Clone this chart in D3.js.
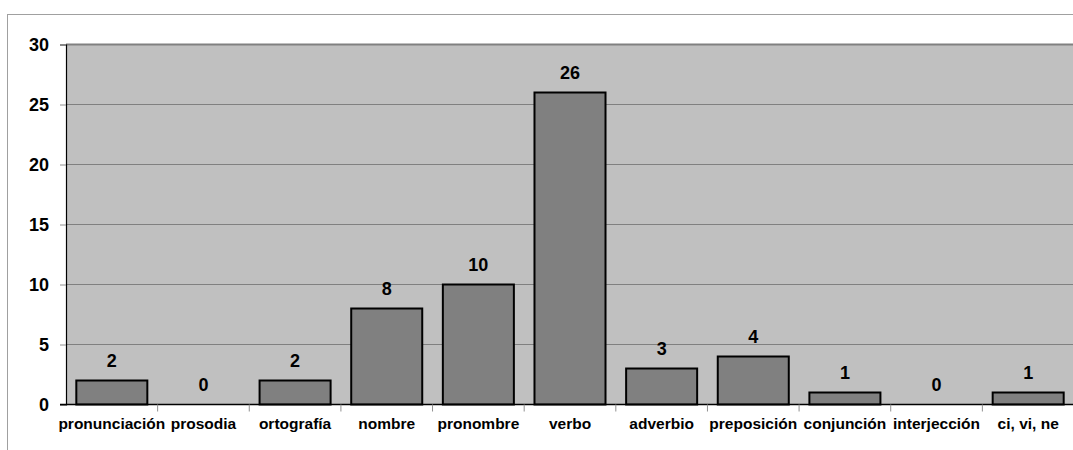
<!DOCTYPE html>
<html>
<head>
<meta charset="utf-8">
<script src="https://cdn.jsdelivr.net/npm/d3@7"></script>
<style>
  html, body { margin: 0; padding: 0; background: #ffffff; }
  svg { display: block; font-family: "Liberation Sans", Arial, sans-serif; }
</style>
</head>
<body>
<svg id="chart" width="1073" height="450"></svg>
<script>
const categories = ["pronunciación", "prosodia", "ortografía", "nombre", "pronombre", "verbo", "adverbio", "preposición", "conjunción", "interjección", "ci, vi, ne"];
const values = [2, 0, 2, 8, 10, 26, 3, 4, 1, 0, 1];
const yTicks = [0, 5, 10, 15, 20, 25, 30];

const svg = d3.select("#chart");
const W = 1073, H = 450;
const plot = { left: 66, top: 44.5, right: 1074, bottom: 404.5 };

// outer frame
svg.append("rect")
  .attr("x", 7.5).attr("y", 14.5)
  .attr("width", W + 10).attr("height", H + 10)
  .attr("fill", "#ffffff").attr("stroke", "#a0a0a0").attr("stroke-width", 1);

const x = d3.scaleBand().domain(categories)
  .range([plot.left, plot.right])
  .paddingInner(0.225).paddingOuter(0.1125);
const y = d3.scaleLinear().domain([0, 30]).range([plot.bottom, plot.top]);

// plot background
svg.append("rect")
  .attr("x", plot.left).attr("y", plot.top)
  .attr("width", plot.right - plot.left).attr("height", plot.bottom - plot.top)
  .attr("fill", "#c0c0c0");

// gridlines
svg.append("g").selectAll("line").data(yTicks.filter(d => d > 0)).join("line")
  .attr("x1", plot.left).attr("x2", plot.right)
  .attr("y1", d => y(d)).attr("y2", d => y(d))
  .attr("stroke", "#808080").attr("stroke-width", d => d === 30 ? 1.8 : 1.2);

// y axis
const yAxis = d3.axisLeft(y).tickValues(yTicks).tickSize(6).tickPadding(11);
const gy = svg.append("g").attr("transform", `translate(${plot.left},0)`).call(yAxis);
gy.select(".domain").attr("stroke", "#000").attr("stroke-width", 1.2);
gy.selectAll(".tick line").attr("stroke", "#909090");
gy.selectAll(".tick text").attr("font-size", 18).attr("font-weight", "bold").attr("fill", "#000")
  .attr("font-family", "'Liberation Sans', Arial, sans-serif");

// bars
svg.append("g").selectAll("rect").data(values).join("rect")
  .attr("x", (d, i) => x(categories[i]))
  .attr("y", d => y(d))
  .attr("width", x.bandwidth())
  .attr("height", d => y(0) - y(d))
  .attr("fill", "#808080")
  .attr("stroke", "#000").attr("stroke-width", 2)
  .style("display", d => d > 0 ? null : "none");

// x axis line + ticks at band boundaries
svg.append("line")
  .attr("x1", plot.left - 6).attr("x2", plot.right)
  .attr("y1", y(0)).attr("y2", y(0))
  .attr("stroke", "#000").attr("stroke-width", 1.5);
const boundaries = categories.map(c => x(c) - x.step() * x.paddingInner() / 2);
svg.append("g").selectAll("line").data(boundaries.slice(1)).join("line")
  .attr("x1", d => d).attr("x2", d => d)
  .attr("y1", y(0)).attr("y2", y(0) + 7)
  .attr("stroke", "#909090").attr("stroke-width", 1);

// category labels
svg.append("g").selectAll("text").data(categories).join("text")
  .attr("x", d => x(d) + x.bandwidth() / 2)
  .attr("y", 429)
  .attr("text-anchor", "middle")
  .attr("font-size", 15.5).attr("font-weight", "bold").attr("fill", "#000")
  .text(d => d);

// value labels
svg.append("g").selectAll("text").data(values).join("text")
  .attr("x", (d, i) => x(categories[i]) + x.bandwidth() / 2)
  .attr("y", d => y(d) - 14)
  .attr("text-anchor", "middle")
  .attr("font-size", 18).attr("font-weight", "bold").attr("fill", "#000")
  .text(d => d);
</script>
</body>
</html>
